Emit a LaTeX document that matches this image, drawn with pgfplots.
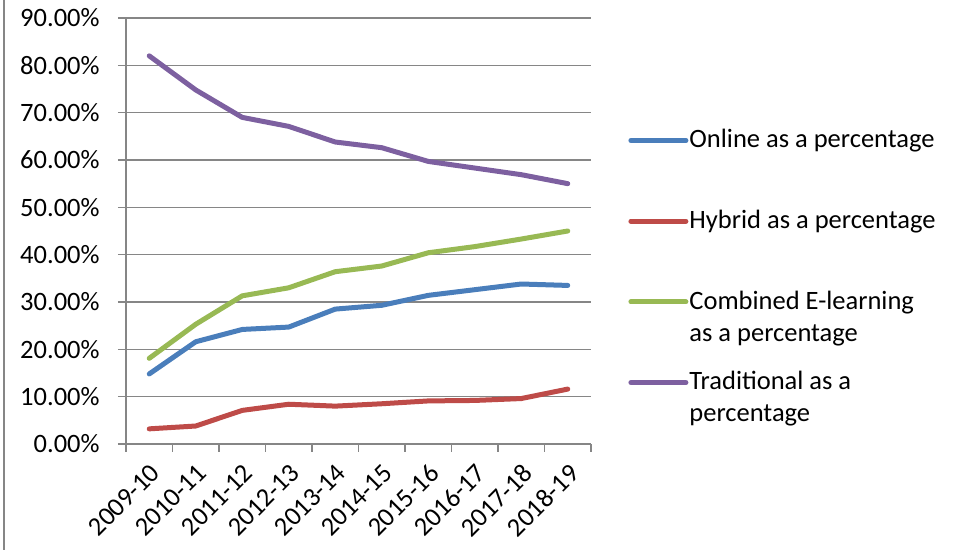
\documentclass[border=0pt]{standalone}
\usepackage{fontspec}
\setmainfont{Carlito}
\usepackage{pgfplots}
\pgfplotsset{compat=1.18}

\definecolor{onlineblue}{HTML}{4A7EBB}
\definecolor{hybridred}{HTML}{BE4B48}
\definecolor{combgreen}{HTML}{98B954}
\definecolor{tradpurple}{HTML}{7D60A0}
\definecolor{gridgray}{HTML}{868686}

\begin{document}
\fontsize{13.25}{16}\selectfont
\begin{tikzpicture}
\useasboundingbox (-63pt,-53pt) rectangle (416.5pt,222pt);
\draw[gridgray, line width=0.75pt] (-61pt,-53pt) -- (-61pt,222pt);
\begin{axis}[
  at={(0,0)}, anchor=south west,
  scale only axis, width=232.5pt, height=213pt,
  xmin=-0.5, xmax=9.5, ymin=0, ymax=90,
  axis lines*=left,
  axis line style={draw=gridgray, line width=0.75pt},
  tick align=outside,
  major tick length=4pt, minor tick length=4pt,
  tick style={gridgray, line width=0.75pt},
  xtick={0,...,9},
  xticklabels={2009-10,2010-11,2011-12,2012-13,2013-14,2014-15,2015-16,2016-17,2017-18,2018-19},
  major x tick style={draw=none},
  minor xtick={-0.5,0.5,...,9.5},
  xticklabel style={yshift=-5pt, rotate=45, anchor=north east, inner sep=0pt},
  ytick={0,10,...,90},
  yticklabels={0.00\%,10.00\%,20.00\%,30.00\%,40.00\%,50.00\%,60.00\%,70.00\%,80.00\%,90.00\%},
  yticklabel style={anchor=east, inner sep=0pt, xshift=-9pt},
  ymajorgrids,
  major grid style={gridgray, line width=0.75pt},
  every axis plot/.append style={line width=2.5pt, line join=round, line cap=round},
  % key line sits 3.6pt above the baseline of the entry's first line
  legend image code/.code={%
    \path[draw=none, fill=none] (0pt,0pt) -- (27.5pt,0pt);
    \draw[#1, line width=2.5pt, line cap=round] (0pt,3.6pt) -- (27.5pt,3.6pt);},
  legend style={draw=none, fill=none, at={(1.0796,0.7434)}, anchor=north west,
    inner sep=0pt, row sep=0pt, column sep=0.5pt,
    cells={anchor=base west},
    nodes={inner sep=0pt, text height=10pt, text depth=30.35pt}},
]
\addplot[onlineblue] coordinates {
  (0,14.8) (1,21.6) (2,24.2) (3,24.7) (4,28.5)
  (5,29.3) (6,31.4) (7,32.6) (8,33.8) (9,33.5)};
\addlegendentry{Online as a percentage}
\addplot[hybridred] coordinates {
  (0,3.2) (1,3.8) (2,7.1) (3,8.4) (4,8.0)
  (5,8.5) (6,9.1) (7,9.2) (8,9.6) (9,11.6)};
\addlegendentry{Hybrid as a percentage}
\addplot[combgreen] coordinates {
  (0,18.1) (1,25.3) (2,31.3) (3,33.0) (4,36.4)
  (5,37.6) (6,40.4) (7,41.7) (8,43.3) (9,45.0)};
\addlegendentry{\parbox[t]{130pt}{Combined E-learning\\as a percentage}}
\addplot[tradpurple] coordinates {
  (0,82.0) (1,74.8) (2,69.0) (3,67.1) (4,63.8)
  (5,62.6) (6,59.7) (7,58.3) (8,56.9) (9,55.0)};
\addlegendentry{\parbox[t]{130pt}{Traditional as a\\percentage}}
\end{axis}
\end{tikzpicture}
\end{document}
